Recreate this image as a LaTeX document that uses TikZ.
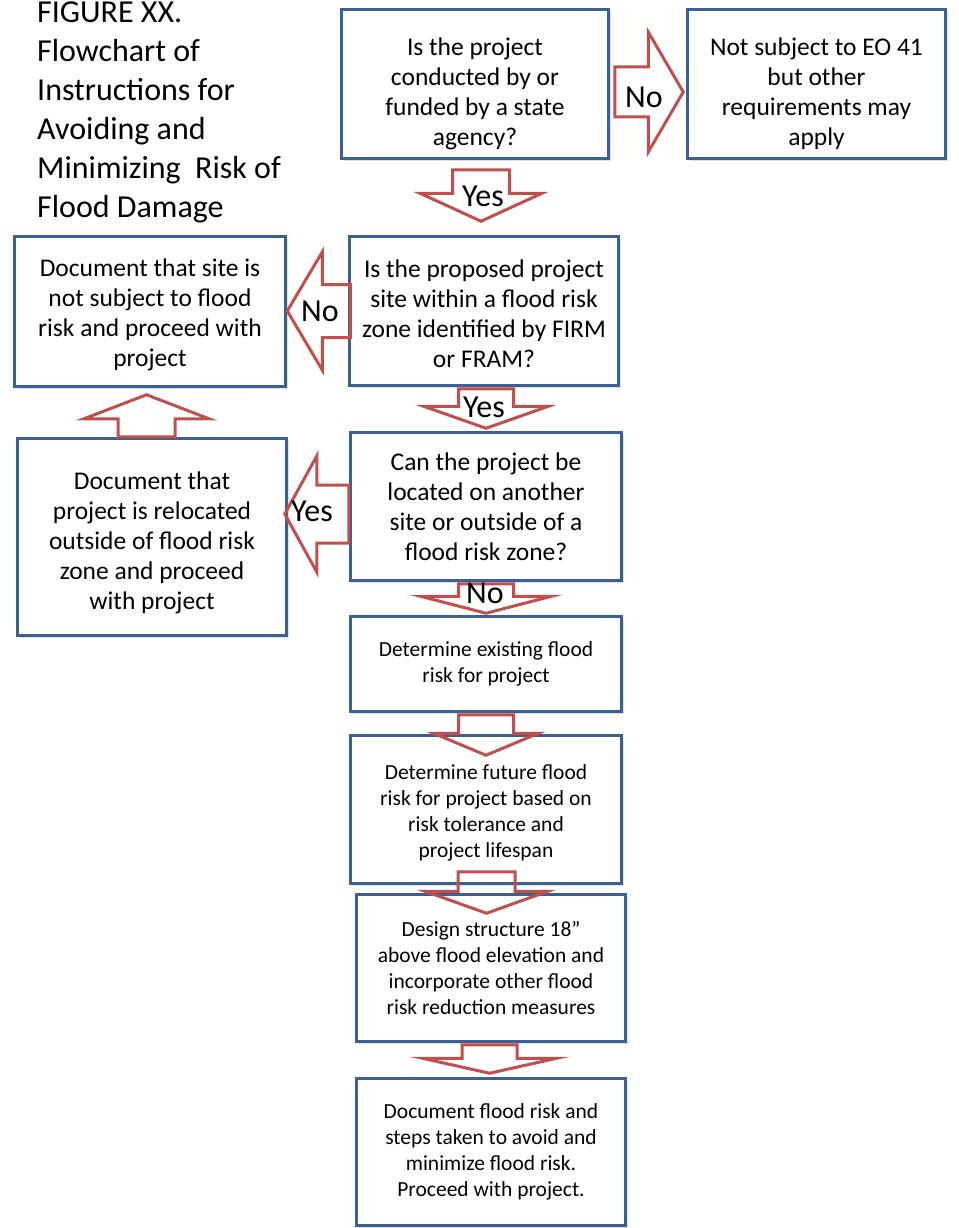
\documentclass[tikz,border=0pt]{standalone}
\usepackage{fontspec}
\setmainfont{Carlito}
\usepackage{xcolor}
\usetikzlibrary{calc,shadows}
\definecolor{boxblue}{RGB}{60,96,145}
\definecolor{arrred}{RGB}{192,80,77}
\tikzset{
  stepbox/.style={draw=boxblue,line width=3.5pt,fill=white,align=center,inner sep=2pt,
    drop shadow={opacity=0.25,shadow xshift=2pt,shadow yshift=-2pt}},
  bigtxt/.style={font=\fontsize{25.5}{30}\selectfont},
  smalltxt/.style={font=\fontsize{21.5}{26}\selectfont},
  arrline/.style={draw=arrred,line width=3pt,line join=miter},
  arrlabel/.style={font=\fontsize{32}{34}\selectfont,inner sep=0pt}
}
% invisible strut that pushes the text of a box down
\newcommand{\topgap}[1]{\rule{0pt}{#1pt}}
% vertical block arrow: #1 start, #2 tip, #3 half shaft, #4 half head, #5 head length
\newcommand{\varr}[5]{\draw[arrline] let \p1=(#1), \p2=(#2), \n1={\y2-#5*(\y2-\y1)/abs(\y2-\y1)} in
  ({\x1-#3pt},\y1) -- ({\x1+#3pt},\y1) -- ({\x1+#3pt},{\n1*1pt}) -- ({\x1+#4pt},{\n1*1pt}) -- (\x1,\y2)
  -- ({\x1-#4pt},{\n1*1pt}) -- ({\x1-#3pt},{\n1*1pt}) -- cycle;}
% horizontal block arrow, same arguments
\newcommand{\harr}[5]{\draw[arrline] let \p1=(#1), \p2=(#2), \n1={\x2-#5*(\x2-\x1)/abs(\x2-\x1)} in
  (\x1,{\y1-#3pt}) -- ({\n1*1pt},{\y1-#3pt}) -- ({\n1*1pt},{\y1-#4pt}) -- (\x2,\y1)
  -- ({\n1*1pt},{\y1+#4pt}) -- ({\n1*1pt},{\y1+#3pt}) -- (\x1,{\y1+#3pt}) -- cycle;}

\begin{document}
\begin{tikzpicture}[x=1pt,y=-1pt]
\useasboundingbox (0,0) rectangle (958,1228);
% ---- TITLE ----
\node[anchor=north west,inner sep=0pt,align=left,font=\fontsize{32}{39}\selectfont] (title) at (37,2)
  {FIGURE XX.\\Flowchart of\\Instructions for\\Avoiding and\\Minimizing~ Risk of\\Flood Damage};
% ---- BOXES ----
\node[stepbox,bigtxt,minimum width=267,minimum height=149] (agency) at (475,84)
  {\topgap{37}Is the project\\conducted by or\\funded by a state\\agency?};
\node[stepbox,bigtxt,minimum width=258,minimum height=149] (notsubj) at (816.5,84)
  {\topgap{37}Not subject to EO 41\\but other\\requirements may\\apply};
\node[stepbox,bigtxt,minimum width=269,minimum height=149] (zone) at (484,311)
  {\topgap{24}Is the proposed project\\site within a flood risk\\zone identified by FIRM\\or FRAM?};
\node[stepbox,bigtxt,minimum width=271,minimum height=150] (nozone) at (150,311.5)
  {\topgap{24}Document that site is\\not subject to flood\\risk and proceed with\\project};
\node[stepbox,bigtxt,minimum width=271,minimum height=148] (reloc) at (486,506.5)
  {Can the project be\\located on another\\site or outside of a\\flood risk zone?};
\node[stepbox,bigtxt,minimum width=269,minimum height=197] (moved) at (152,537)
  {\topgap{29}Document that\\project is relocated\\outside of flood risk\\zone and proceed\\with project};
\node[stepbox,smalltxt,minimum width=271,minimum height=95] (exist) at (486,664)
  {Determine existing flood\\risk for project};
\node[stepbox,smalltxt,minimum width=271,minimum height=148] (future) at (486,809.5)
  {\topgap{22}Determine future flood\\risk for project based on\\risk tolerance and\\project lifespan};
\node[stepbox,smalltxt,minimum width=269,minimum height=147] (design) at (491,968)
  {Design structure 18”\\above flood elevation and\\incorporate other flood\\risk reduction measures};
\node[stepbox,smalltxt,minimum width=269,minimum height=147] (final) at (491,1152)
  {Document flood risk and\\steps taken to avoid and\\minimize flood risk.\\Proceed with project.};
% ---- ARROWS ----
\harr{$(agency.east)+(4.5,8)$}{$(notsubj.west)+(-2.5,0)$}{25}{60}{35}
\varr{$(agency.south)+(6,9.5)$}{$(zone.north)+(0,-13.5)$}{28.5}{61}{28}
\harr{$(zone.west)+(2.5,0)$}{nozone.east}{26.5}{59}{35}
\varr{$(zone.south)+(2,1.5)$}{$(reloc.north)+(0,-2.5)$}{27.5}{62.5}{22}
\harr{$(reloc.west)+(0,7.5)$}{$(moved.east)+(-3.5,0)$}{29}{58}{32}
\varr{$(moved.north)+(-5.5,0)$}{$(nozone.south)+(0,6.5)$}{28.5}{62.5}{24}
\varr{$(reloc.south)+(0,1.5)$}{$(exist.north)+(0,-1.5)$}{27.5}{65.5}{17}
\varr{$(exist.south)+(0,1.5)$}{$(future.north)+(0,21.5)$}{27.5}{52.5}{22}
\varr{$(future.south)+(0.5,-13.5)$}{$(design.north)+(0,20.5)$}{28.5}{61.5}{22}
\varr{$(design.south)+(-1.5,1.5)$}{$(final.north)+(0,-3.5)$}{27.5}{67}{15}
% ---- ARROW LABELS ----
\node[arrlabel] (no1) at (644,97) {No};
\node[arrlabel] (yes1) at (483,196) {Yes};
\node[arrlabel] (no2) at (320,311) {No};
\node[arrlabel] (yes2) at (484,407) {Yes};
\node[arrlabel] (yes3) at (312,511) {Yes};
\node[arrlabel] (no3) at (485,593) {No};
\end{tikzpicture}
\end{document}
